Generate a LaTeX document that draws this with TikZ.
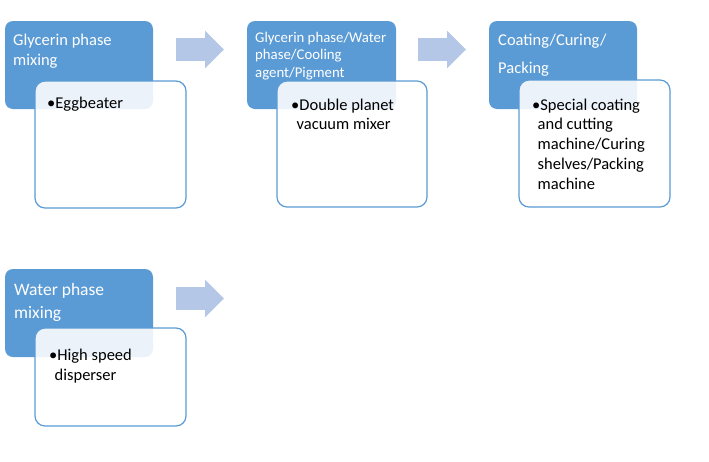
\documentclass[tikz,border=0pt]{standalone}
\usepackage{fontspec}
\setmainfont{Carlito}
\definecolor{stepblue}{HTML}{5B9BD5}
\definecolor{arrblue}{HTML}{B4C7E7}
\begin{document}
\begin{tikzpicture}[x=1pt,y=-1pt,
  headbox/.style={fill=stepblue,draw=none,rounded corners=8pt},
  toolbox/.style={fill=white,fill opacity=0.88,draw=stepblue,line width=1.2pt,rounded corners=10pt},
  headtxt/.style={text=white,inner sep=0pt,anchor=base west,align=left},
  tooltxt/.style={text=black,inner sep=0pt,anchor=base west,align=left},
  flowarrow/.style={fill=arrblue,draw=none}]
\useasboundingbox (0,0) rectangle (709,461);
% step 1
\fill[headbox] (5,21) rectangle (153,109);
\filldraw[toolbox] (35,81) rectangle (186,208);
\node[headtxt,font=\fontsize{16.5}{20}\selectfont] (h1) at (13,65) {Glycerin phase\\mixing};
\node[tooltxt,font=\fontsize{16.5}{20}\selectfont] (t1) at (47,108) {•Eggbeater};
% step 2
\fill[headbox] (247,21) rectangle (396,109);
\filldraw[toolbox] (277,81) rectangle (427,207);
\node[headtxt,font=\fontsize{14.8}{17.5}\selectfont] (h2) at (255,77) {Glycerin phase/Water\\phase/Cooling\\agent/Pigment};
\node[tooltxt,font=\fontsize{16.5}{19.5}\selectfont] (t2) at (291,129.5) {•Double planet\\\hspace*{5.5pt}vacuum mixer};
% step 3
\fill[headbox] (489,21) rectangle (637,109);
\filldraw[toolbox] (519,80) rectangle (670,207);
\node[headtxt,font=\fontsize{16.5}{28}\selectfont] (h3) at (498,73) {Coating/Curing/\\Packing};
\node[tooltxt,font=\fontsize{16.5}{19.8}\selectfont] (t3) at (532,189.2) {•Special coating\\\hspace*{5.5pt}and cutting\\\hspace*{5.5pt}machine/Curing\\\hspace*{5.5pt}shelves/Packing\\\hspace*{5.5pt}machine};
% step 4
\fill[headbox] (5,269) rectangle (153,357);
\filldraw[toolbox] (35,328) rectangle (186,426);
\node[headtxt,font=\fontsize{17.5}{23}\selectfont] (h4) at (14,318) {Water phase\\mixing};
\node[tooltxt,font=\fontsize{16.5}{20}\selectfont] (t4) at (49,380) {•High speed\\\hspace*{5.5pt}disperser};
% arrows
\foreach \ax/\ay in {176/49.5, 418/49.5, 176/298.5}{
  \fill[flowarrow] (\ax,\ay-11.3) -- (\ax+29,\ay-11.3) -- (\ax+29,\ay-18.8) -- (\ax+48,\ay) -- (\ax+29,\ay+18.8) -- (\ax+29,\ay+11.3) -- (\ax,\ay+11.3) -- cycle;
}
\end{tikzpicture}
\end{document}
